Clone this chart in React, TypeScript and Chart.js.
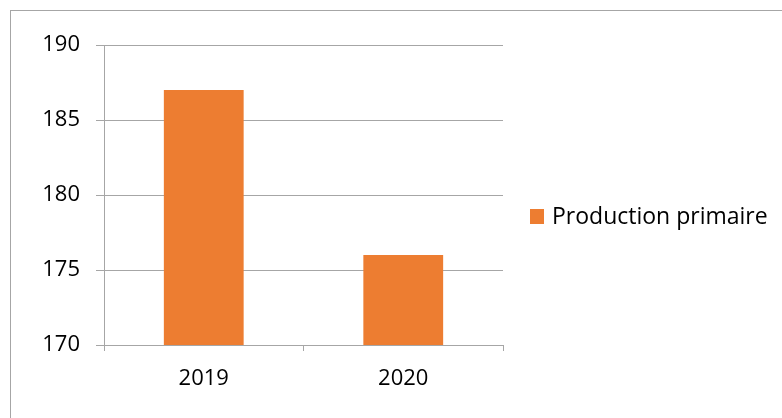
import React, { useEffect, useRef } from "react";
import { Chart, registerables } from "chart.js";

Chart.register(...registerables);

const categories: string[] = ["2019", "2020"];
const seriesName = "Production primaire";
const seriesValues: number[] = [187, 176];
const yMin = 170;
const yMax = 190;
const yStep = 5;

const FONT = "'Open Sans', sans-serif";
const ORANGE = "#ED7D31";
const GRID = "#a6a6a6";

const legendPlugin = {
  id: "customLegend",
  afterDraw(chart: any) {
    const ctx = chart.ctx;
    const ds = chart.data.datasets[0];
    const midY = (chart.chartArea.top + chart.chartArea.bottom) / 2 + 22;
    ctx.save();
    ctx.fillStyle = ds.backgroundColor;
    ctx.fillRect(530, midY - 8, 14, 15);
    ctx.fillStyle = "#000";
    ctx.font = `23px ${FONT}`;
    ctx.textBaseline = "middle";
    ctx.textAlign = "left";
    ctx.fillText(ds.label, 552, midY);
    ctx.restore();
  },
};

export default function App() {
  const ref = useRef<HTMLCanvasElement | null>(null);
  useEffect(() => {
    if (!ref.current) return;
    const chart = new Chart(ref.current, {
      type: "bar",
      data: {
        labels: categories,
        datasets: [
          {
            label: seriesName,
            data: seriesValues,
            backgroundColor: ORANGE,
            categoryPercentage: 1,
            barPercentage: 0.4,
          },
        ],
      },
      options: {
        animation: false,
        responsive: false,
        devicePixelRatio: 1,
        layout: { padding: { left: 0, top: 45, right: 279, bottom: 0 } },
        plugins: { legend: { display: false }, tooltip: { enabled: false } },
        scales: {
          x: {
            grid: {
              display: true,
              drawOnChartArea: false,
              drawTicks: true,
              tickLength: 6,
              color: GRID,
              offset: true,
            },
            border: { display: true, color: GRID },
            ticks: { color: "#000", font: { family: FONT, size: 22 }, padding: 15 },
            afterFit: (scale: any) => {
              scale.height = 418 - 345;
            },
          },
          y: {
            min: yMin,
            max: yMax,
            ticks: {
              stepSize: yStep,
              color: "#000",
              font: { family: FONT, size: 22 },
              padding: 16,
            },
            grid: { color: GRID, tickLength: 8 },
            border: { display: true, color: GRID },
            afterFit: (scale: any) => {
              scale.width = 104;
            },
          },
        },
      },
      plugins: [legendPlugin],
    });
    return () => chart.destroy();
  }, []);
  return (
    <div
      style={{
        position: "fixed",
        left: 0,
        top: 0,
        width: 782,
        height: 418,
        background: "#fff",
        overflow: "hidden",
      }}
    >
      <div
        style={{
          position: "absolute",
          left: 10,
          top: 10,
          width: 800,
          height: 430,
          border: "1px solid #a6a6a6",
          boxSizing: "border-box",
        }}
      />
      <canvas ref={ref} width={782} height={418} style={{ position: "absolute", left: 0, top: 0 }} />
    </div>
  );
}
